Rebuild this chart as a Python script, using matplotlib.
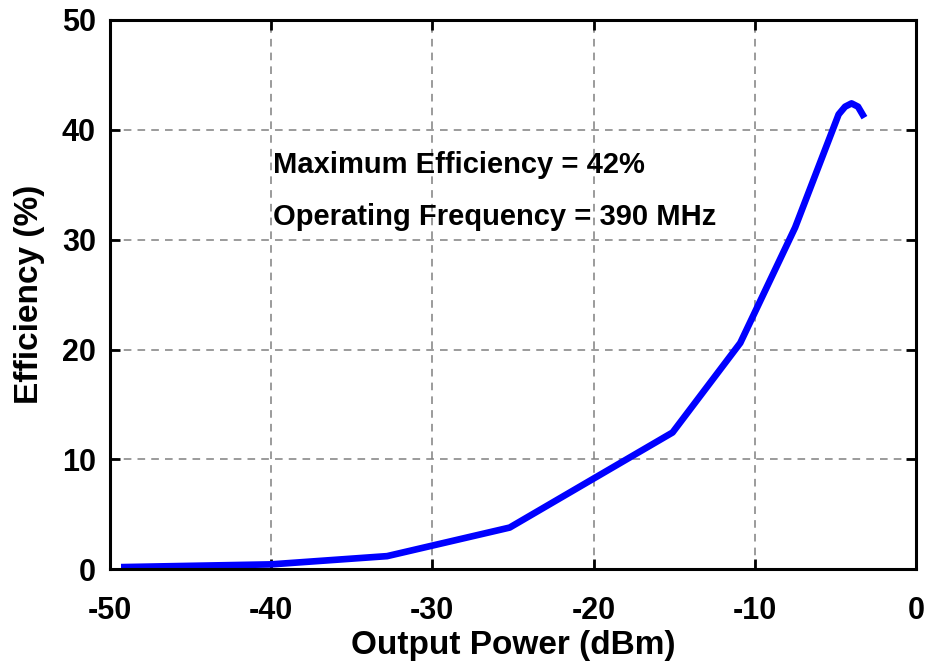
import matplotlib
matplotlib.use("Agg")
import matplotlib.pyplot as plt

# Output power sweep (dBm) and drain efficiency (%)
pout_dbm = [-49.3, -40.0, -32.8, -25.2, -15.1, -10.9, -7.5, -4.8, -4.4, -4.0, -3.6, -3.2]
efficiency = [0.2, 0.45, 1.2, 3.8, 12.45, 20.6, 31.1, 41.4, 42.1, 42.4, 42.1, 41.1]

x_ticks = [-50, -40, -30, -20, -10, 0]
y_ticks = [0, 10, 20, 30, 40, 50]

plt.rcParams["font.family"] = ["Liberation Sans", "DejaVu Sans"]
plt.rcParams["font.weight"] = "bold"
plt.rcParams["axes.unicode_minus"] = False

fig = plt.figure(figsize=(9.3, 6.62), dpi=100)
ax = fig.add_axes([0.118, 0.14, 0.867, 0.83])

ax.plot(pout_dbm, efficiency, color="#0000ff", linewidth=4.8, solid_joinstyle="round",
        solid_capstyle="butt")

ax.set_xlim(-50, 0)
ax.set_ylim(0, 50)
ax.set_xticks(x_ticks)
ax.set_yticks(y_ticks)
ax.tick_params(direction="in", length=7, width=2, top=True, right=True, labelsize=22)
ax.tick_params(axis="x", pad=19)
ax.tick_params(axis="y", pad=10)
for lbl in ax.get_xticklabels() + ax.get_yticklabels():
    lbl.set_fontweight("bold")
for sp in ax.spines.values():
    sp.set_linewidth(2.2)

ax.grid(True, color="#808080", linestyle=(0, (5, 4)), linewidth=1.1)
ax.set_axisbelow(True)

ax.set_xlabel("Output Power (dBm)", fontsize=24, fontweight="bold", labelpad=3)
ax.set_ylabel("Efficiency (%)", fontsize=24, fontweight="bold", labelpad=12)

ax.text(-39.9, 36.1, "Maximum Efficiency = 42%", fontsize=21, fontweight="bold",
        va="baseline", ha="left")
ax.text(-39.9, 31.3, "Operating Frequency = 390 MHz", fontsize=21, fontweight="bold",
        va="baseline", ha="left")

fig.savefig("out.png", dpi=100)
